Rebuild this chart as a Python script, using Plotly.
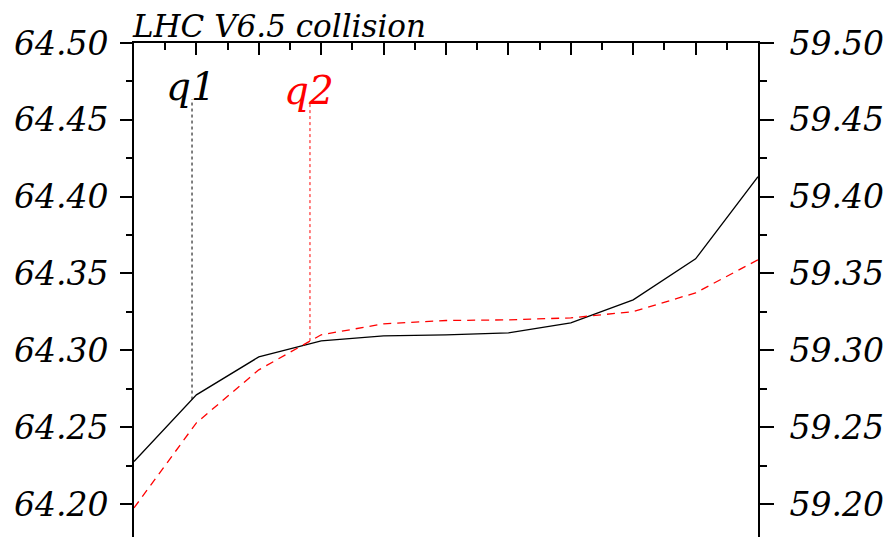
import plotly.graph_objects as go

# data
x_vals = [0, 1, 2, 3, 4, 5, 6, 7, 8, 9, 10]
q1_vals = [64.2276, 64.2710, 64.2957, 64.3061, 64.3094, 64.3100, 64.3113, 64.3178, 64.3328, 64.3595, 64.4130]
q2_vals = [59.1974, 59.2528, 59.2873, 59.3101, 59.3172, 59.3194, 59.3198, 59.3211, 59.3252, 59.3374, 59.3589]
q1_marker_x = 0.93
q2_marker_x = 2.82
q1_marker_top = 64.4635
q2_marker_top = 64.4610
title_text = "LHC V6.5 collision"
left_range = [64.1785, 64.50]
right_range = [59.1785, 59.50]

FONT = "DejaVu Serif"

fig = go.Figure()
fig.add_trace(go.Scatter(x=x_vals, y=q1_vals, mode="lines",
                         line=dict(color="black", width=1.3), yaxis="y", showlegend=False))
fig.add_trace(go.Scatter(x=x_vals, y=q2_vals, mode="lines",
                         line=dict(color="red", width=1.3, dash="8px,6px"), yaxis="y2", showlegend=False))

# vertical marker lines
def interp(xs, ys, x0):
    for i in range(len(xs) - 1):
        if xs[i] <= x0 <= xs[i + 1]:
            t = (x0 - xs[i]) / (xs[i + 1] - xs[i])
            return ys[i] + t * (ys[i + 1] - ys[i])
    return ys[-1]

q1_bottom = interp(x_vals, q1_vals, q1_marker_x)
q2_bottom = interp(x_vals, q2_vals, q2_marker_x) + (left_range[0] - right_range[0])
fig.add_shape(type="line", xref="x", yref="y", x0=q1_marker_x, x1=q1_marker_x,
              y0=q1_bottom, y1=q1_marker_top, line=dict(color="black", width=1, dash="dot"))
fig.add_shape(type="line", xref="x", yref="y", x0=q2_marker_x, x1=q2_marker_x,
              y0=q2_bottom, y1=q2_marker_top, line=dict(color="red", width=1, dash="dot"))

fig.add_annotation(x=q1_marker_x - 0.02, y=q1_marker_top, xref="x", yref="y", text="q1",
                   showarrow=False, xanchor="center", yanchor="bottom", yshift=-12,
                   font=dict(family=FONT, size=39, color="black", style="italic"))
fig.add_annotation(x=q2_marker_x - 0.02, y=q2_marker_top, xref="x", yref="y", text="q2",
                   showarrow=False, xanchor="center", yanchor="bottom", yshift=-12,
                   font=dict(family=FONT, size=39, color="red", style="italic"))
fig.add_annotation(x=0, y=1, xref="paper", yref="paper", text=title_text,
                   showarrow=False, xanchor="left", yanchor="bottom", yshift=-3, xshift=-4,
                   font=dict(family=FONT, size=31, color="black", style="italic"))

tickfont = dict(family=FONT, size=33, color="black", style="italic")

fig.update_layout(
    width=888, height=537,
    margin=dict(l=134, r=130, t=43, b=0),
    paper_bgcolor="white", plot_bgcolor="white",
    xaxis=dict(range=[0, 10], side="top", showline=True, linecolor="black", linewidth=2,
               ticks="inside", ticklen=12, tickwidth=2, tickcolor="black", dtick=1,
               showticklabels=False, showgrid=False, zeroline=False, mirror=False,
               minor=dict(ticks="inside", ticklen=7, tickwidth=2, tickcolor="black", dtick=0.5)),
    yaxis=dict(range=left_range, side="left", showline=True, linecolor="black", linewidth=2,
               ticks="outside", ticklen=12, tickwidth=2, tickcolor="black",
               tick0=64.20, dtick=0.05, tickformat=".2f", tickfont=tickfont,
               showgrid=False, zeroline=False, ticklabelstandoff=5,
               minor=dict(ticks="outside", ticklen=6, tickwidth=2, tickcolor="black", dtick=0.025, tick0=64.20)),
    yaxis2=dict(range=right_range, side="right", overlaying="y", showline=True, linecolor="black",
                linewidth=2, ticks="outside", ticklen=14, tickwidth=2, tickcolor="black",
                tick0=59.20, dtick=0.05, tickformat=".2f", tickfont=tickfont,
                showgrid=False, zeroline=False, ticklabelstandoff=9,
                minor=dict(ticks="outside", ticklen=7, tickwidth=2, tickcolor="black", dtick=0.025, tick0=59.20)),
)

fig.write_html("out.html")
